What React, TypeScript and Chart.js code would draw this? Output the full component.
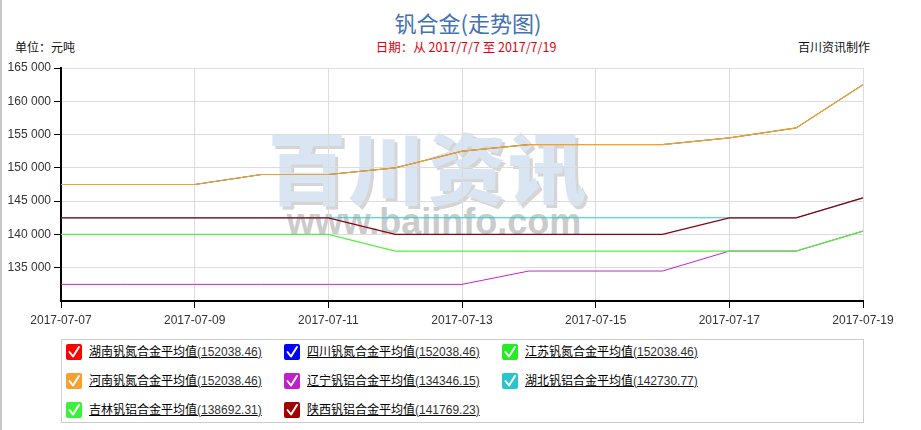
import React, { useEffect, useRef } from 'react';
import { Chart, registerables } from 'chart.js';

Chart.register(...registerables);

const dates = [
  '2017-07-07', '2017-07-08', '2017-07-09', '2017-07-10', '2017-07-11', '2017-07-12', '2017-07-13',
  '2017-07-14', '2017-07-15', '2017-07-16', '2017-07-17', '2017-07-18', '2017-07-19',
];

const hunanVN = [147500, 147500, 147500, 149000, 149000, 150000, 152500, 153500, 153500, 153500, 154500, 156000, 162500];
const sichuanVN = [147500, 147500, 147500, 149000, 149000, 150000, 152500, 153500, 153500, 153500, 154500, 156000, 162500];
const jiangsuVN = [147500, 147500, 147500, 149000, 149000, 150000, 152500, 153500, 153500, 153500, 154500, 156000, 162500];
const henanVN = [147500, 147500, 147500, 149000, 149000, 150000, 152500, 153500, 153500, 153500, 154500, 156000, 162500];
const liaoningVAl = [132500, 132500, 132500, 132500, 132500, 132500, 132500, 134500, 134500, 134500, 137500, 137500, 140500];
const hubeiVAl = [142500, 142500, 142500, 142500, 142500, 142500, 142500, 142500, 142500, 142500, 142500, 142500, 145500];
const jilinVAl = [140000, 140000, 140000, 140000, 140000, 137500, 137500, 137500, 137500, 137500, 137500, 137500, 140500];
const shaanxiVAl = [142500, 142500, 142500, 142500, 142500, 140000, 140000, 140000, 140000, 140000, 142500, 142500, 145500];

const seriesNames = [
  '湖南钒氮合金平均值', '四川钒氮合金平均值', '江苏钒氮合金平均值', '河南钒氮合金平均值',
  '辽宁钒铝合金平均值', '湖北钒铝合金平均值', '吉林钒铝合金平均值', '陕西钒铝合金平均值',
];
const seriesData = [hunanVN, sichuanVN, jiangsuVN, henanVN, liaoningVAl, hubeiVAl, jilinVAl, shaanxiVAl];

const yMin = 130000;
const yMax = 165000;
const yStep = 5000;

const iconColors = ['#ff0000', '#0000ff', '#22ee22', '#f7a030', '#c020c8', '#26c6cc', '#3cf03c', '#a00000'];
const lineColors = ['#ff0000', '#0000ff', '#33ee33', '#f2a22c', '#cc22cc', '#2cc8cc', '#55ee44', '#8a0012'];
const lineWidths = [0.5, 0.5, 0.5, 1.2, 1, 1, 1.2, 1.3];

const FONT_LATIN = '"Liberation Sans", Arial, "Noto Sans CJK SC", sans-serif';
const FONT_CJK = '"Noto Sans CJK SC", "Liberation Sans", sans-serif';

function fmt(v: number): string {
  return String(v).replace(/\B(?=(\d{3})+(?!\d))/g, ' ');
}

function avg(a: number[]): string {
  return (a.reduce((s, x) => s + x, 0) / a.length).toFixed(2);
}

export default function App() {
  const canvasRef = useRef<HTMLCanvasElement | null>(null);

  useEffect(() => {
    const canvas = canvasRef.current;
    if (!canvas) return;
    const chart = new Chart(canvas, {
      type: 'line',
      data: {
        labels: dates,
        datasets: seriesData.map((d, i) => ({
          label: seriesNames[i],
          data: d,
          borderColor: lineColors[i],
          backgroundColor: lineColors[i],
          borderWidth: lineWidths[i],
          pointRadius: 0,
          pointHoverRadius: 0,
          tension: 0,
          fill: false,
          order: 20 - i,
        })),
      },
      options: {
        animation: false,
        responsive: false,
        maintainAspectRatio: false,
        layout: { padding: { top: 13, right: 58, left: 0, bottom: 0 } },
        plugins: {
          legend: { display: false },
          tooltip: { enabled: false },
          title: { display: false },
        },
        scales: {
          x: {
            type: 'category',
            grid: {
              color: (c: any) => (c.index % 2 === 0 ? '#dcdcdc' : 'rgba(0,0,0,0)'),
              tickColor: (c: any) => (c.index % 2 === 0 ? '#000' : 'rgba(0,0,0,0)'),
              tickLength: 7,
              lineWidth: 1,
            },
            border: { display: true, color: '#000', width: 2 },
            ticks: {
              autoSkip: false,
              maxRotation: 0,
              minRotation: 0,
              padding: 5,
              color: '#333',
              font: { family: FONT_LATIN, size: 12 },
              callback: (_v: any, i: number) => (i % 2 === 0 ? dates[i] : ''),
            },
            afterFit: (s: any) => {
              s.height = 34;
            },
          },
          y: {
            min: yMin,
            max: yMax,
            grid: {
              color: '#dcdcdc',
              tickColor: (c: any) => (c.tick && c.tick.value === yMin ? 'rgba(0,0,0,0)' : '#000'),
              tickLength: 7,
              lineWidth: 1,
            },
            border: { display: true, color: '#000', width: 2 },
            ticks: {
              stepSize: yStep,
              padding: 3,
              color: '#333',
              font: { family: FONT_LATIN, size: 12 },
              callback: (v: any) => (Number(v) === yMin ? '' : fmt(Number(v))),
            },
            afterFit: (s: any) => {
              s.width = 61;
            },
          },
        },
      },
    });
    return () => chart.destroy();
  }, []);

  const abs = (o: React.CSSProperties): React.CSSProperties => ({ position: 'absolute', ...o });

  return (
    <div style={abs({ left: 0, top: 0, width: 921, height: 430, overflow: 'hidden', background: '#fff' })}>
      <div style={abs({ left: 0, top: 0, width: 2, height: 430, background: '#c8c8c8' })} />
      <div
        style={abs({
          left: 318, top: 6, width: 300, height: 32, lineHeight: '32px', textAlign: 'center',
          fontFamily: FONT_CJK, fontSize: 22, color: '#4472b4',
        })}
      >
        钒合金(走势图)
      </div>
      <div style={abs({ left: 15, top: 39, height: 16, lineHeight: '16px', fontFamily: FONT_CJK, fontSize: 12, color: '#111' })}>
        单位：元吨
      </div>
      <div
        style={abs({
          left: 316, top: 39, width: 300, height: 16, lineHeight: '16px', textAlign: 'center',
          fontFamily: FONT_CJK, fontSize: 12.5, color: '#e3000f',
        })}
      >
        日期：从 2017/7/7 至 2017/7/19
      </div>
      <div style={abs({ right: 51, top: 39, height: 16, lineHeight: '16px', fontFamily: FONT_CJK, fontSize: 12, color: '#111' })}>
        百川资讯制作
      </div>

      <div
        style={abs({
          left: 178, top: 122, width: 500, height: 86, lineHeight: '86px', textAlign: 'center',
          fontFamily: FONT_CJK, fontWeight: 900, fontSize: 78, letterSpacing: 2, color: '#d9e5f3',
          textShadow: '3px 3px 0 #d5d5d5', whiteSpace: 'nowrap',
        })}
      >
        百川资讯
      </div>
      <div
        style={abs({
          left: 184, top: 201, width: 500, height: 42, lineHeight: '42px', textAlign: 'center',
          fontFamily: FONT_LATIN, fontWeight: 'bold', fontSize: 36, color: '#cbcbcb', whiteSpace: 'nowrap',
        })}
      >
        www.baiinfo.com
      </div>

      <canvas ref={canvasRef} width={921} height={280} style={abs({ left: 0, top: 55, width: 921, height: 280 })} />

      <div style={abs({ left: 61, top: 339, width: 801, height: 82, border: '1px solid #cccccc' })} />
      {seriesNames.map((name, i) => {
        const row = Math.floor(i / 3);
        const col = i % 3;
        const cy = 352 + row * 29;
        return (
          <div key={name} style={abs({ left: 66 + col * 218, top: cy - 9, height: 18, display: 'flex', alignItems: 'center', whiteSpace: 'nowrap' })}>
            <svg width={16} height={16} viewBox="0 0 16 16" style={{ display: 'block' }}>
              <rect x={0} y={0} width={16} height={16} rx={2} ry={2} fill={iconColors[i]} />
              <polyline points="3.5,8 7,12.5 13,3" fill="none" stroke="#fff" strokeWidth={2} strokeLinecap="round" strokeLinejoin="round" />
            </svg>
            <span
              style={{
                marginLeft: 7, fontFamily: FONT_LATIN, fontSize: 12, lineHeight: '18px',
                textDecoration: 'underline', color: '#000',
              }}
            >
              {name}
              <span style={{ color: '#333' }}>({avg(seriesData[i])})</span>
            </span>
          </div>
        );
      })}
    </div>
  );
}
